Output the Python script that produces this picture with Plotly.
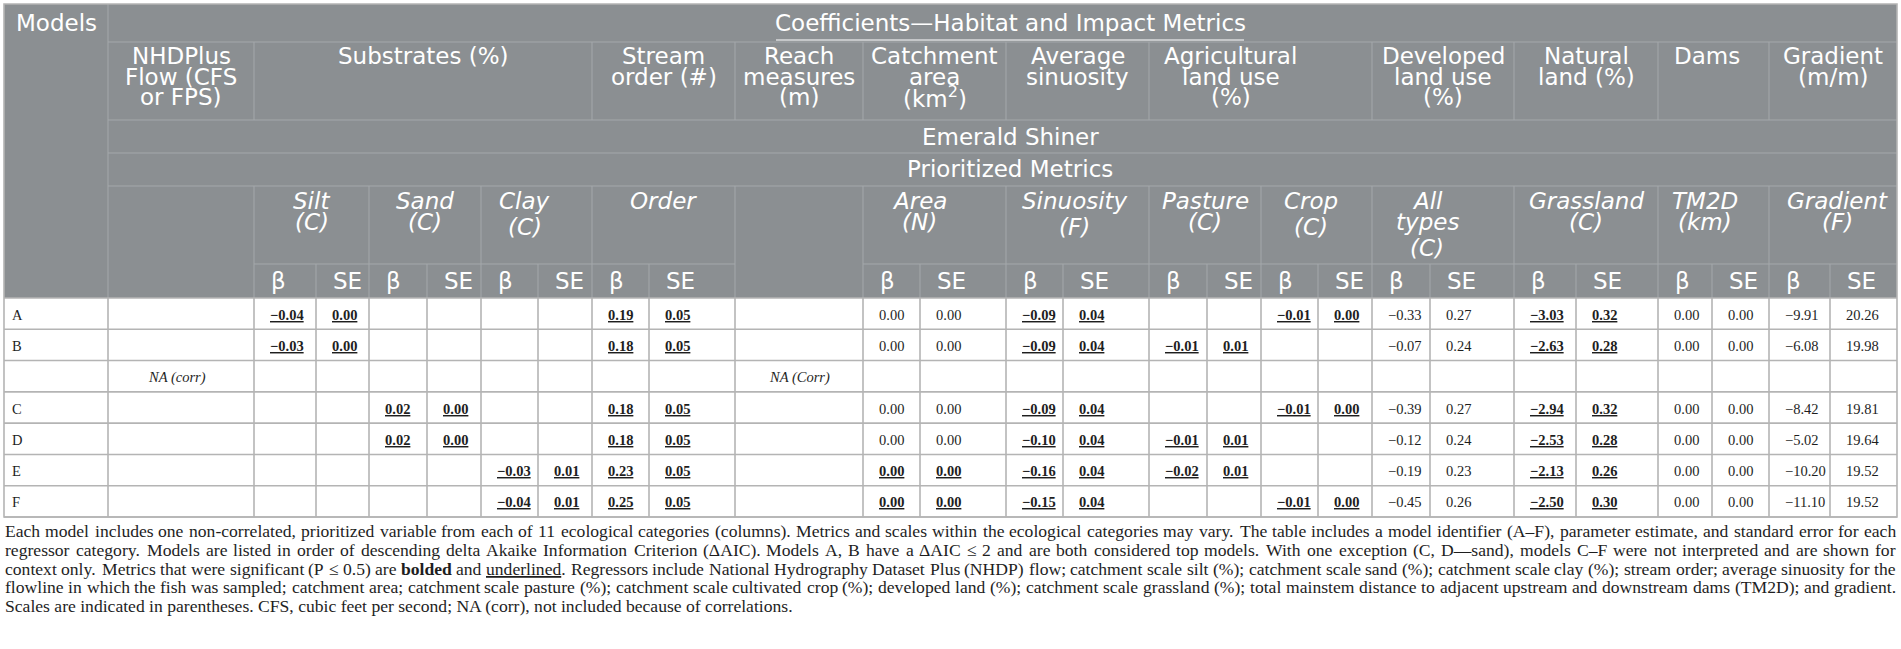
import re
import plotly.graph_objects as go

# ------------------------------------------------------------------ data
models = ["A", "B", "", "C", "D", "E", "F"]
nhd_flow = ["", "", "NA (corr)", "", "", "", ""]
reach_measures = ["", "", "NA (Corr)", "", "", "", ""]

models_label = "Models"
title_text = "Coefficients\u2014Habitat and Impact Metrics"
species_text = "Emerald Shiner"
subtitle_text = "Prioritized Metrics"
categories = ["NHDPlus\nFlow (CFS\nor FPS)", "Substrates (%)", "Stream\norder (#)",
              "Reach\nmeasures\n(m)", "Catchment\narea\n(km<sup>2</sup>)",
              "Average\nsinuosity", "Agricultural\nland use\n(%)",
              "Developed\nland use\n(%)", "Natural\nland (%)", "Dams", "Gradient\n(m/m)"]
metric_labels = ["Silt\n(C)", "Sand\n(C)", "Clay\n(C)", "Order", "Area\n(N)",
                 "Sinuosity\n(F)", "Pasture\n(C)", "Crop\n(C)", "All\ntypes\n(C)",
                 "Grassland\n(C)", "TM2D\n(km)", "Gradient\n(F)"]
stat_labels = ["\u03b2", "SE"]

silt_b = [-0.04, -0.03, None, None, None, None, None]
silt_se = [0.00, 0.00, None, None, None, None, None]
silt_sig = [1, 1, 0, 0, 0, 0, 0]
sand_b = [None, None, None, 0.02, 0.02, None, None]
sand_se = [None, None, None, 0.00, 0.00, None, None]
sand_sig = [0, 0, 0, 1, 1, 0, 0]
clay_b = [None, None, None, None, None, -0.03, -0.04]
clay_se = [None, None, None, None, None, 0.01, 0.01]
clay_sig = [0, 0, 0, 0, 0, 1, 1]
order_b = [0.19, 0.18, None, 0.18, 0.18, 0.23, 0.25]
order_se = [0.05, 0.05, None, 0.05, 0.05, 0.05, 0.05]
order_sig = [1, 1, 0, 1, 1, 1, 1]
area_b = [0.00, 0.00, None, 0.00, 0.00, 0.00, 0.00]
area_se = [0.00, 0.00, None, 0.00, 0.00, 0.00, 0.00]
area_sig = [0, 0, 0, 0, 0, 1, 1]
sinu_b = [-0.09, -0.09, None, -0.09, -0.10, -0.16, -0.15]
sinu_se = [0.04, 0.04, None, 0.04, 0.04, 0.04, 0.04]
sinu_sig = [1, 1, 0, 1, 1, 1, 1]
past_b = [None, -0.01, None, None, -0.01, -0.02, None]
past_se = [None, 0.01, None, None, 0.01, 0.01, None]
past_sig = [0, 1, 0, 0, 1, 1, 0]
crop_b = [-0.01, None, None, -0.01, None, None, -0.01]
crop_se = [0.00, None, None, 0.00, None, None, 0.00]
crop_sig = [1, 0, 0, 1, 0, 0, 1]
dev_b = [-0.33, -0.07, None, -0.39, -0.12, -0.19, -0.45]
dev_se = [0.27, 0.24, None, 0.27, 0.24, 0.23, 0.26]
dev_sig = [0, 0, 0, 0, 0, 0, 0]
grass_b = [-3.03, -2.63, None, -2.94, -2.53, -2.13, -2.50]
grass_se = [0.32, 0.28, None, 0.32, 0.28, 0.26, 0.30]
grass_sig = [1, 1, 0, 1, 1, 1, 1]
dams_b = [0.00, 0.00, None, 0.00, 0.00, 0.00, 0.00]
dams_se = [0.00, 0.00, None, 0.00, 0.00, 0.00, 0.00]
dams_sig = [0, 0, 0, 0, 0, 0, 0]
grad_b = [-9.91, -6.08, None, -8.42, -5.02, -10.20, -11.10]
grad_se = [20.26, 19.98, None, 19.81, 19.64, 19.52, 19.52]
grad_sig = [0, 0, 0, 0, 0, 0, 0]

footnote_lines = [
    "Each model includes one non-correlated, prioritized variable from each of 11 ecological categories (columns). Metrics and scales within the ecological categories may vary. The table includes a model identifier (A\u2013F), parameter estimate, and standard error for each",
    "regressor category. Models are listed in order of descending delta Akaike Information Criterion (\u0394AIC). Models A, B have a \u0394AIC \u2264 2 and are both considered top models. With one exception (C, D\u2014sand), models C\u2013F were not interpreted and are shown for",
    "context only. Metrics that were significant (P \u2264 0.5) are <b>bolded</b> and <u>underlined</u>. Regressors include National Hydrography Dataset Plus (NHDP) flow; catchment scale silt (%); catchment scale sand (%); catchment scale clay (%); stream order; average sinuosity for the",
    "flowline in which the fish was sampled; catchment area; catchment scale pasture (%); catchment scale cultivated crop (%); developed land (%); catchment scale grassland (%); total mainstem distance to adjacent upstream and downstream dams (TM2D); and gradient.",
    "Scales are indicated in parentheses. CFS, cubic feet per second; NA (corr), not included because of correlations.",
]

metric_data = [
    (silt_b, silt_se, silt_sig), (sand_b, sand_se, sand_sig), (clay_b, clay_se, clay_sig),
    (order_b, order_se, order_sig), (area_b, area_se, area_sig), (sinu_b, sinu_se, sinu_sig),
    (past_b, past_se, past_sig), (crop_b, crop_se, crop_sig), (dev_b, dev_se, dev_sig),
    (grass_b, grass_se, grass_sig), (dams_b, dams_se, dams_sig), (grad_b, grad_se, grad_sig),
]

# ------------------------------------------------------------------ layout
W, H = 1901, 649
X = [4, 108, 254, 316, 369, 427, 481, 538, 592, 649, 735, 863, 920, 1006, 1063,
     1149, 1207, 1261, 1318, 1372, 1430, 1514, 1576, 1658, 1712, 1769, 1830, 1897]
LEFT, RIGHT = X[0], X[-1]
Y_TOP, Y_R1, Y_R2, Y_R3, Y_R4, Y_R5, Y_HEAD, Y_BOT = 4, 42, 120, 153, 186, 264, 298, 517
ROW_H = (Y_BOT - Y_HEAD) / len(models)

HEAD_BG = "#8b8f92"
HEAD_LINE = "#a4a8ab"
GRID = "#b4b4b4"
WHITE = "#ffffff"
INK = "#1e1e1e"
SANS = "DejaVu Sans"
SERIF = "Liberation Serif"
HEAD_FS = 23
DATA_FS = 14.5
PAD = 16
CAT_Y0, CAT_DY = 56, 20.6

cat_cols = [(1, 1), (2, 7), (8, 9), (10, 10), (11, 12), (13, 14), (15, 18),
            (19, 20), (21, 22), (23, 24), (25, 26)]
cat_dx = [0, 0, 0, 0, 0, 0, -30, 0, 0, -7, 0]
metric_col = [2, 4, 6, 8, 11, 13, 15, 17, 19, 21, 23, 25]
metric_dx = [0, 0, -12, 0, -15, -3, 0, -6, -16, 0, -9, 4]

shapes = []
annotations = []


def seg(x0, y0, x1, y1, color, width):
    shapes.append(dict(type="line", xref="x", yref="y", x0=x0, y0=y0, x1=x1, y1=y1,
                       line=dict(color=color, width=width), layer="above"))


def txt(x, y, s, size, color, family, xanchor="center", yanchor="middle"):
    annotations.append(dict(x=x, y=y, xref="x", yref="y", text=s, showarrow=False,
                            xanchor=xanchor, yanchor=yanchor, borderpad=0, borderwidth=0,
                            font=dict(size=size, color=color, family=family)))


def fmt(v):
    s = f"{abs(v):.2f}"
    return ("\u2212" + s) if v < 0 else s


# header background
shapes.append(dict(type="rect", xref="x", yref="y", x0=LEFT, y0=Y_TOP, x1=RIGHT, y1=Y_HEAD,
                   fillcolor=HEAD_BG, line=dict(width=0), layer="below"))

# header grid
seg(X[1], Y_TOP, X[1], Y_HEAD, HEAD_LINE, 1)
for yy in (Y_R1, Y_R2, Y_R3, Y_R4):
    seg(X[1], yy, RIGHT, yy, HEAD_LINE, 1)
for (c0, c1) in cat_cols[1:]:
    seg(X[c0], Y_R1, X[c0], Y_R2, HEAD_LINE, 1)
group_edges = [X[2], X[10], X[11]] + [X[c] for c in metric_col]
for xe in sorted(set(group_edges)):
    seg(xe, Y_R4, xe, Y_HEAD, HEAD_LINE, 1)
for c in metric_col:
    seg(X[c + 1], Y_R5, X[c + 1], Y_HEAD, HEAD_LINE, 1)
seg(X[2], Y_R5, X[10], Y_R5, HEAD_LINE, 1)
seg(X[11], Y_R5, RIGHT, Y_R5, HEAD_LINE, 1)

# data grid
for xe in X[1:-1]:
    seg(xe, Y_HEAD, xe, Y_BOT, GRID, 1.6)
for r in range(len(models) + 1):
    yy = Y_HEAD + r * ROW_H
    seg(LEFT, yy, RIGHT, yy, GRID, 1.6)
shapes.append(dict(type="rect", xref="x", yref="y", x0=LEFT, y0=Y_TOP, x1=RIGHT, y1=Y_BOT,
                   fillcolor="rgba(0,0,0,0)", line=dict(color=GRID, width=1.6), layer="above"))

# header text
txt((X[0] + X[1]) / 2, 23, models_label, HEAD_FS, WHITE, SANS)
TITLE_X = 1010
txt(TITLE_X, 23, title_text, HEAD_FS, WHITE, SANS)
seg(TITLE_X - 234, 40, TITLE_X + 234, 40, WHITE, 1.2)
for i, (c0, c1) in enumerate(cat_cols):
    cx = (X[c0] + X[c1 + 1]) / 2 + cat_dx[i]
    for j, ln in enumerate(categories[i].split("\n")):
        txt(cx, CAT_Y0 + CAT_DY * j, ln, HEAD_FS, WHITE, SANS)
txt(TITLE_X, 137, species_text, HEAD_FS, WHITE, SANS)
txt(TITLE_X, 169, subtitle_text, HEAD_FS, WHITE, SANS)
for i, c in enumerate(metric_col):
    cx = (X[c] + X[c + 2]) / 2 + metric_dx[i]
    lines = metric_labels[i].split("\n")
    yy = 201
    for j, ln in enumerate(lines):
        if j > 0:
            yy += 26 if re.search(r"[gjpqy]", lines[j - 1]) else 20.5
        txt(cx, yy, "<i>" + ln + "</i>", HEAD_FS, WHITE, SANS)
    for k, lab in enumerate(stat_labels):
        txt(X[c + k] + PAD + 1, 281, lab, HEAD_FS, WHITE, SANS, xanchor="left")

# body text
for r, m in enumerate(models):
    yc = Y_HEAD + ROW_H * (r + 0.5) + 1
    if m:
        txt(X[0] + 8, yc, m, DATA_FS, INK, SERIF, xanchor="left")
    if nhd_flow[r]:
        txt((X[1] + X[2]) / 2 - 4, yc, "<i>" + nhd_flow[r] + "</i>", DATA_FS, INK, SERIF)
    if reach_measures[r]:
        txt((X[10] + X[11]) / 2, yc, "<i>" + reach_measures[r] + "</i>", DATA_FS, INK, SERIF)
    for i, (bv, sv, sg) in enumerate(metric_data):
        c = metric_col[i]
        for k, v in enumerate((bv[r], sv[r])):
            if v is None:
                continue
            s = fmt(v)
            if sg[r]:
                s = "<b><u>" + s + "</u></b>"
            txt(X[c + k] + PAD, yc, s, DATA_FS, INK, SERIF, xanchor="left")

# footnote (justified lines, word by word)
TIMES = {" ": 250, ",": 250, ".": 250, "(": 333, ")": 333, ";": 278, ":": 278, "%": 833,
         "-": 333, "\u2013": 500, "\u2014": 1000, "\u0394": 612, "\u2264": 549}
for ch in "0123456789":
    TIMES[ch] = 500
TIMES.update(dict(zip("abcdefghijklmnopqrstuvwxyz",
                      [444, 500, 444, 500, 444, 333, 500, 500, 278, 278, 500, 278, 778, 500,
                       500, 500, 500, 333, 389, 278, 500, 500, 722, 500, 500, 444])))
TIMES.update(dict(zip("ABCDEFGHIJKLMNOPQRSTUVWXYZ",
                      [722, 667, 667, 722, 611, 556, 722, 722, 333, 389, 722, 611, 889, 722,
                       722, 556, 722, 667, 556, 611, 722, 722, 944, 722, 722, 611])))


def em(word):
    plain = re.sub(r"<[^>]+>", "", word)
    w = sum(TIMES.get(ch, 500) for ch in plain) / 1000.0
    return w * 1.06 if "<b>" in word else w


FOOT_X0, FOOT_X1 = 5, 1896
FOOT_Y0, FOOT_DY = 531, 18.75
FOOT_FS = round(789 / em(footnote_lines[-1]), 1)
for i, line in enumerate(footnote_lines):
    yy = FOOT_Y0 + i * FOOT_DY
    if i == len(footnote_lines) - 1:
        txt(FOOT_X0, yy, line, FOOT_FS, INK, SERIF, xanchor="left")
        continue
    words = line.split(" ")
    widths = [em(w) * FOOT_FS for w in words]
    gap = (FOOT_X1 - FOOT_X0 - sum(widths)) / (len(words) - 1)
    xx = FOOT_X0
    for w, wd in zip(words, widths):
        txt(xx, yy, w, FOOT_FS, INK, SERIF, xanchor="left")
        xx += wd + gap

fig = go.Figure(go.Scatter(x=[0, W], y=[0, H], mode="markers", marker=dict(opacity=0),
                           hoverinfo="skip", showlegend=False))
fig.update_layout(
    width=W, height=H, margin=dict(l=0, r=0, t=0, b=0),
    paper_bgcolor="white", plot_bgcolor="white",
    xaxis=dict(range=[0, W], visible=False, fixedrange=True),
    yaxis=dict(range=[H, 0], visible=False, fixedrange=True),
    shapes=shapes, annotations=annotations, showlegend=False,
)
fig.write_html("out.html", config={"displayModeBar": False, "staticPlot": True},
               post_script="document.body.style.margin='0';document.body.style.overflow='hidden';")
